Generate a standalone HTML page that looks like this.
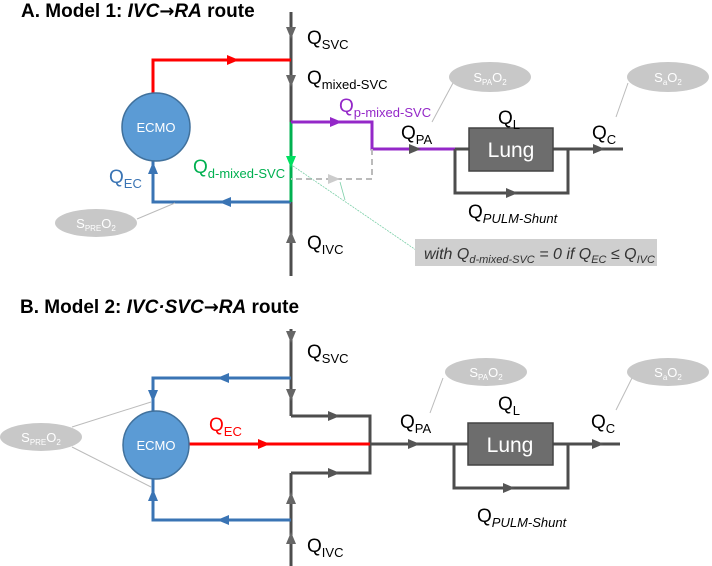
<!DOCTYPE html>
<html><head><style>
body{margin:0;background:#fff}
svg{display:block;font-family:"Liberation Sans",sans-serif}
.t{font-size:19px}
.s{font-size:13px}
.ar{font-family:"DejaVu Sans",sans-serif;font-size:18px}
</style></head><body>
<svg width="712" height="566" viewBox="0 0 712 566">
<!-- ===== A ===== -->
<text x="21" y="17" font-size="19" font-weight="bold">A. Model 1: <tspan font-style="italic">IVC</tspan><tspan class="ar" font-weight="bold">→</tspan><tspan font-style="italic">RA</tspan> route</text>
<g fill="none" stroke-width="3">
<line x1="291" y1="12" x2="291" y2="276" stroke="#4d4d4d"/>
<polyline points="153,95 153,60 291,60" stroke="#f00"/>
<polyline points="153,160 153,202 291,202" stroke="#3a74b4"/>
<line x1="291" y1="122" x2="291" y2="202" stroke="#00b050"/>
<polyline points="291,122 372,122 372,149 455,149" stroke="#9428c8"/>
<line x1="455" y1="149" x2="623" y2="149" stroke="#4d4d4d"/>
<polyline points="455,149 455,193 568,193 568,149" stroke="#4d4d4d"/>
</g>
<polyline points="372,149 372,179 291,179" fill="none" stroke="#bbb" stroke-width="2" stroke-dasharray="6,4"/>
<circle cx="156" cy="127" r="34" fill="#5b9bd5" stroke="#41719c" stroke-width="1.5"/>
<text x="156" y="132" text-anchor="middle" fill="#fff" font-size="13">ECMO</text>
<rect x="469" y="128" width="84" height="43" fill="#6d6d6d" stroke="#444" stroke-width="1.5"/>
<text x="511" y="157" text-anchor="middle" fill="#fff" font-size="21">Lung</text>
<polygon points="286,27 296,27 291,39" fill="#666"/>
<polygon points="286,75 296,75 291,87" fill="#666"/>
<polygon points="227,55 227,65 239,60" fill="#f00"/>
<polygon points="286,156 296,156 291,168" fill="#00e060"/>
<polygon points="330,117 330,127 342,122" fill="#9428c8"/>
<polygon points="409,144 409,154 421,149" fill="#555"/>
<polygon points="328,174 328,184 340,179" fill="#ccc"/>
<polygon points="231,197 231,207 219,202" fill="#3a74b4"/>
<polygon points="148,174 158,174 153,162" fill="#3a74b4"/>
<polygon points="506,188 506,198 518,193" fill="#555"/>
<polygon points="593,144 593,154 605,149" fill="#555"/>
<polygon points="286,243 296,243 291,231" fill="#666"/>
<line x1="453" y1="83" x2="432" y2="122" stroke="#bbb"/>
<line x1="628" y1="83" x2="616" y2="117" stroke="#bbb"/>
<line x1="137" y1="219" x2="175" y2="203" stroke="#bbb"/>
<line x1="293" y1="166" x2="416" y2="250" stroke="#7ccfa8" stroke-width="0.8" stroke-dasharray="2,1"/>
<line x1="340" y1="182" x2="345" y2="200" stroke="#7ccfa8" stroke-width="0.8"/>
<ellipse cx="490" cy="77" rx="41" ry="15" fill="#c8c8c8"/>
<text x="490" y="82" text-anchor="middle" fill="#fff" font-size="13">S<tspan font-size="8" dy="3">PA</tspan><tspan dy="-3">O</tspan><tspan font-size="8" dy="3">2</tspan></text>
<ellipse cx="668" cy="77" rx="41" ry="15" fill="#c8c8c8"/>
<text x="668" y="82" text-anchor="middle" fill="#fff" font-size="13">S<tspan font-size="8" dy="3">a</tspan><tspan dy="-3">O</tspan><tspan font-size="8" dy="3">2</tspan></text>
<ellipse cx="96" cy="223" rx="41" ry="14" fill="#c8c8c8"/>
<text x="96" y="228" text-anchor="middle" fill="#fff" font-size="13">S<tspan font-size="8" dy="3">PRE</tspan><tspan dy="-3">O</tspan><tspan font-size="8" dy="3">2</tspan></text>
<rect x="415" y="239" width="242" height="27" fill="#cfcfcf"/>
<text x="424" y="259" font-size="16" font-style="italic" fill="#333">with Q<tspan font-size="11" dy="4">d-mixed-SVC</tspan><tspan dy="-4"> = 0 if Q</tspan><tspan font-size="11" dy="4">EC</tspan><tspan dy="-4"> ≤ Q</tspan><tspan font-size="11" dy="4">IVC</tspan></text>
<text x="307" y="44" class="t">Q<tspan class="s" dy="5">SVC</tspan></text>
<text x="307" y="84" class="t">Q<tspan class="s" dy="5">mixed-SVC</tspan></text>
<text x="339" y="112" class="t" fill="#9428c8">Q<tspan class="s" dy="5">p-mixed-SVC</tspan></text>
<text x="401" y="139" class="t">Q<tspan class="s" dy="5">PA</tspan></text>
<text x="498" y="124" class="t">Q<tspan class="s" dy="5">L</tspan></text>
<text x="592" y="139" class="t">Q<tspan class="s" dy="5">C</tspan></text>
<text x="468" y="218" class="t">Q<tspan class="s" dy="5" font-style="italic">PULM-Shunt</tspan></text>
<text x="307" y="249" class="t">Q<tspan class="s" dy="5">IVC</tspan></text>
<text x="109" y="183" class="t" fill="#3a74b4">Q<tspan class="s" dy="5">EC</tspan></text>
<text x="193" y="173" class="t" fill="#00b050">Q<tspan class="s" dy="5">d-mixed-SVC</tspan></text>

<!-- ===== B ===== -->
<text x="20" y="313" font-size="19" font-weight="bold">B. Model 2: <tspan font-style="italic">IVC·SVC</tspan><tspan class="ar" font-weight="bold">→</tspan><tspan font-style="italic">RA</tspan> route</text>
<g fill="none" stroke-width="3">
<line x1="291" y1="329" x2="291" y2="416" stroke="#4d4d4d"/>
<line x1="291" y1="473" x2="291" y2="566" stroke="#4d4d4d"/>
<polyline points="291,416 370,416 370,473 291,473" stroke="#4d4d4d"/>
<line x1="370" y1="444" x2="620" y2="444" stroke="#4d4d4d"/>
<polyline points="454,444 454,488 568,488 568,444" stroke="#4d4d4d"/>
<polyline points="291,378 153,378 153,411" stroke="#3a74b4"/>
<polyline points="291,520 153,520 153,479" stroke="#3a74b4"/>
<line x1="186" y1="444" x2="370" y2="444" stroke="#f00"/>
</g>
<ellipse cx="156" cy="445" rx="33" ry="34" fill="#5b9bd5" stroke="#41719c" stroke-width="1.5"/>
<text x="156" y="450" text-anchor="middle" fill="#fff" font-size="13">ECMO</text>
<rect x="468" y="423" width="85" height="42" fill="#6d6d6d" stroke="#444" stroke-width="1.5"/>
<text x="510" y="452" text-anchor="middle" fill="#fff" font-size="21">Lung</text>
<polygon points="286,331 296,331 291,343" fill="#666"/>
<polygon points="286,389 296,389 291,401" fill="#666"/>
<polygon points="229,373 229,383 217,378" fill="#3a74b4"/>
<polygon points="148,390 158,390 153,402" fill="#3a74b4"/>
<polygon points="328,411 328,421 340,416" fill="#555"/>
<polygon points="328,468 328,478 340,473" fill="#555"/>
<polygon points="258,439 258,449 270,444" fill="#f00"/>
<polygon points="408,439 408,449 420,444" fill="#555"/>
<polygon points="503,483 503,493 515,488" fill="#555"/>
<polygon points="592,439 592,449 604,444" fill="#555"/>
<polygon points="148,501 158,501 153,489" fill="#3a74b4"/>
<polygon points="229,515 229,525 217,520" fill="#3a74b4"/>
<polygon points="286,504 296,504 291,492" fill="#666"/>
<polygon points="286,544 296,544 291,532" fill="#666"/>
<line x1="443" y1="378" x2="430" y2="413" stroke="#bbb"/>
<line x1="632" y1="378" x2="616" y2="410" stroke="#bbb"/>
<line x1="72" y1="427" x2="151" y2="402" stroke="#bbb"/>
<line x1="72" y1="447" x2="151" y2="487" stroke="#bbb"/>
<ellipse cx="486" cy="372" rx="41" ry="14" fill="#c8c8c8"/>
<text x="486" y="377" text-anchor="middle" fill="#fff" font-size="13">S<tspan font-size="8" dy="3">PA</tspan><tspan dy="-3">O</tspan><tspan font-size="8" dy="3">2</tspan></text>
<ellipse cx="668" cy="372" rx="41" ry="14" fill="#c8c8c8"/>
<text x="668" y="377" text-anchor="middle" fill="#fff" font-size="13">S<tspan font-size="8" dy="3">a</tspan><tspan dy="-3">O</tspan><tspan font-size="8" dy="3">2</tspan></text>
<ellipse cx="41" cy="437" rx="41" ry="14" fill="#c8c8c8"/>
<text x="41" y="442" text-anchor="middle" fill="#fff" font-size="13">S<tspan font-size="8" dy="3">PRE</tspan><tspan dy="-3">O</tspan><tspan font-size="8" dy="3">2</tspan></text>
<text x="307" y="358" class="t">Q<tspan class="s" dy="5">SVC</tspan></text>
<text x="209" y="431" class="t" fill="#f00">Q<tspan class="s" dy="5">EC</tspan></text>
<text x="400" y="428" class="t">Q<tspan class="s" dy="5">PA</tspan></text>
<text x="498" y="410" class="t">Q<tspan class="s" dy="5">L</tspan></text>
<text x="591" y="428" class="t">Q<tspan class="s" dy="5">C</tspan></text>
<text x="477" y="522" class="t">Q<tspan class="s" dy="5" font-style="italic">PULM-Shunt</tspan></text>
<text x="307" y="552" class="t">Q<tspan class="s" dy="5">IVC</tspan></text>
</svg>
</body></html>
